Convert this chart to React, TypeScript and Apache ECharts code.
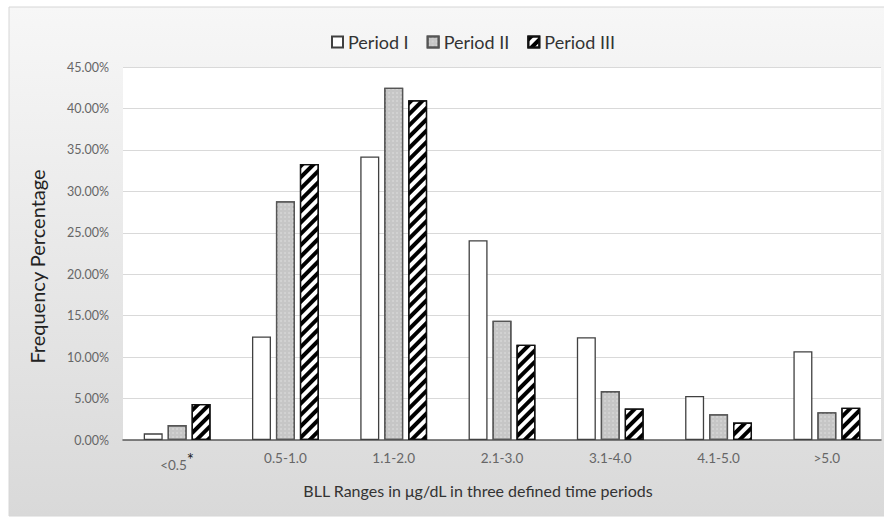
import React, { useEffect, useRef } from "react";
import * as echarts from "echarts";

const categories = ["<0.5", "0.5-1.0", "1.1-2.0", "2.1-3.0", "3.1-4.0", "4.1-5.0", ">5.0"];
const periodI = [0.8, 12.5, 34.2, 24.1, 12.4, 5.3, 10.7];
const periodII = [1.8, 28.8, 42.5, 14.4, 5.9, 3.1, 3.35];
const periodIII = [4.35, 33.3, 41.0, 11.5, 3.8, 2.1, 3.9];
const seriesNames = ["Period I", "Period II", "Period III"];

const FONT = "Lato";

export default function App() {
  const ref = useRef<HTMLDivElement>(null);
  useEffect(() => {
    if (!ref.current) return;
    const chart = echarts.init(ref.current, null, { renderer: "svg" });
    const option: any = {
      animation: false,
      backgroundColor: "#ffffff",
      textStyle: { fontFamily: FONT },
      graphic: [
        {
          type: "rect",
          z: -10,
          silent: true,
          shape: { x: 9, y: 7, width: 884, height: 509 },
          style: {
            fill: new echarts.graphic.LinearGradient(0, 0, 0, 1, [
              { offset: 0, color: "#f7f7f7" },
              { offset: 1, color: "#d9d9d9" },
            ]),
            stroke: "#d6d6d6",
            lineWidth: 1,
          },
        },
      ],
      legend: {
        top: 28,
        left: 326,
        icon: "rect",
        itemWidth: 11,
        itemHeight: 11,
        itemGap: 18,
        data: seriesNames,
        textStyle: { fontFamily: FONT, fontSize: 18, color: "#333333" },
      },
      grid: {
        left: 123,
        right: 3,
        top: 67,
        bottom: 77,
        show: true,
        backgroundColor: "#ffffff",
        borderWidth: 0,
      },
      xAxis: {
        type: "category",
        data: categories,
        name: "BLL Ranges in μg/dL in three defined time periods",
        nameLocation: "middle",
        nameGap: 42,
        nameTextStyle: { fontFamily: FONT, fontSize: 16, color: "#333333", padding: [0, 48, 0, 0] },
        axisLine: { lineStyle: { color: "#595959", width: 1.5 } },
        axisTick: { show: false },
        axisLabel: {
          margin: 11,
          fontFamily: FONT,
          fontSize: 13.5,
          color: "#666666",
          formatter: (v: string) => (v === "<0.5" ? v + "{star|*}" : v),
          rich: {
            star: { fontSize: 17, color: "#222222", padding: [0, 0, 10, 0] },
          },
        },
      },
      yAxis: {
        type: "value",
        min: 0,
        max: 45,
        interval: 5,
        name: "Frequency Percentage",
        nameLocation: "middle",
        nameGap: 76,
        nameTextStyle: { fontFamily: FONT, fontSize: 20, color: "#222222", padding: [0, 26, 0, 0] },
        axisLine: { show: false },
        axisTick: { show: false },
        axisLabel: {
          margin: 14,
          fontFamily: FONT,
          fontSize: 12.5,
          color: "#666666",
          formatter: (v: number) => v.toFixed(2) + "%",
        },
        splitLine: { lineStyle: { color: "#d9d9d9", width: 1 } },
      },
      series: [
        {
          name: seriesNames[0],
          type: "bar",
          data: periodI,
          barWidth: 19,
          barGap: "26%",
          itemStyle: { color: "#ffffff", borderColor: "#404040", borderWidth: 1.3 },
        },
        {
          name: seriesNames[1],
          type: "bar",
          data: periodII,
          barWidth: 19,
          barGap: "26%",
          itemStyle: {
            color: "#c6c6c6",
            borderColor: "#555555",
            borderWidth: 1.3,
            decal: {
              symbol: "circle",
              symbolSize: 0.6,
              color: "rgba(235,235,235,0.9)",
              dashArrayX: [2, 2],
              dashArrayY: [2, 2],
              rotation: 0,
            },
          },
        },
        {
          name: seriesNames[2],
          type: "bar",
          data: periodIII,
          barWidth: 19,
          barGap: "26%",
          itemStyle: {
            color: "#ffffff",
            borderColor: "#111111",
            borderWidth: 1.3,
            decal: {
              symbol: "rect",
              symbolSize: 1,
              color: "#000000",
              dashArrayX: [1, 0],
              dashArrayY: [3.2, 3.2],
              rotation: -Math.PI / 4,
            },
          },
        },
      ],
    };
    chart.setOption(option);
    return () => chart.dispose();
  }, []);
  return (
    <div
      ref={ref}
      style={{ position: "fixed", left: 0, top: 0, width: 884, height: 517 }}
    />
  );
}
